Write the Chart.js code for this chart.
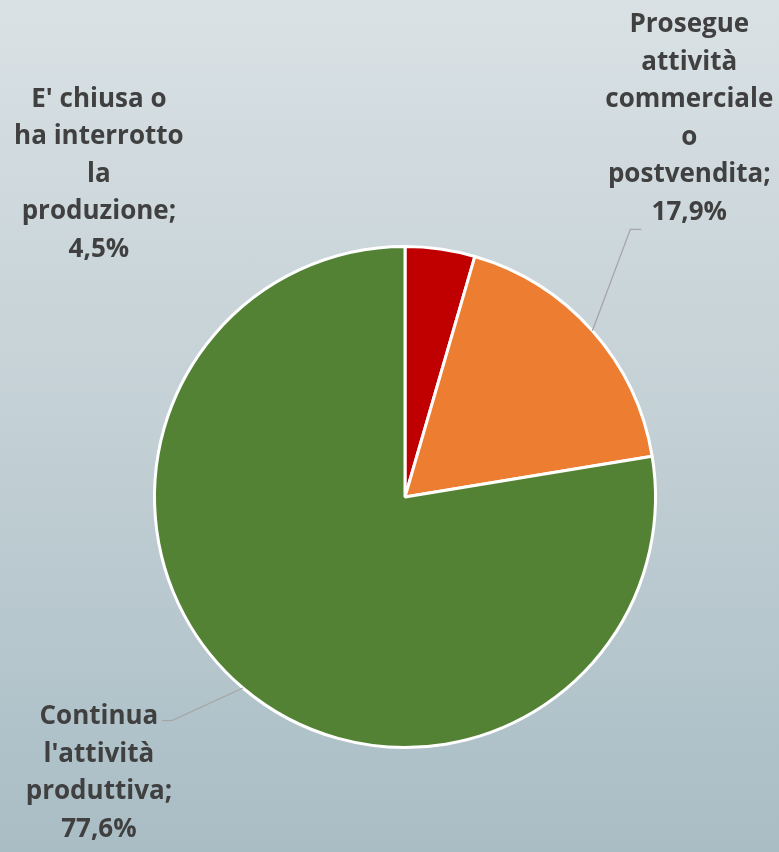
<!DOCTYPE html>
<html><head><meta charset="utf-8">
<script src="https://cdn.jsdelivr.net/npm/chart.js@4/dist/chart.umd.min.js"></script>
<style>
html,body{margin:0;padding:0;width:779px;height:852px;overflow:hidden;}
body{background:linear-gradient(to bottom,#d9e1e4 0%,#c3d0d5 50%,#a9bdc5 100%);}
#wrap{position:absolute;left:0;top:0;width:779px;height:852px;}
</style></head><body>
<div id="wrap"><canvas id="c" width="779" height="852"></canvas></div>
<script>
const categories = ["E' chiusa o ha interrotto la produzione", "Prosegue attività commerciale o postvendita", "Continua l'attività produttiva"];
const values = [4.5, 17.9, 77.6];
const valueLabels = ["4,5%", "17,9%", "77,6%"];
const labelLines = [
  ["E' chiusa o", "ha interrotto", "la", "produzione;"],
  ["Prosegue", "attività", "commerciale", "o", "postvendita;"],
  ["Continua", "l'attività", "produttiva;"]
];
const colors = ["#c00000", "#ed7d31", "#548235"];

// label placement relative to pie center, in radius units (dx, dy of first line center)
const labelPos = [
  {dx:-1.222, dy:-1.587, leader:false},
  {dx:1.135, dy:-1.885, leader:true},
  {dx:-1.222, dy:0.877, leader:true}
];

const labelPlugin = {
  id:'labels',
  afterDatasetsDraw(chart){
    const ctx = chart.ctx;
    const meta = chart.getDatasetMeta(0);
    ctx.save();
    ctx.font = "bold 26px 'Open Sans', sans-serif";
    ctx.textAlign = 'center';
    ctx.textBaseline = 'middle';
    meta.data.forEach((arc, i) => {
      const {x, y, outerRadius, startAngle, endAngle} = arc.getProps(['x','y','outerRadius','startAngle','endAngle'], true);
      const r = outerRadius;
      const lx = x + labelPos[i].dx * r;
      const ly = y + labelPos[i].dy * r;
      const lines = labelLines[i].concat([valueLabels[i]]);
      const lh = 37.5;
      ctx.fillStyle = '#404040';
      lines.forEach((t, k) => ctx.fillText(t, lx, ly + k*lh));
      if (labelPos[i].leader) {
        ctx.strokeStyle = '#a6a6a6';
        ctx.lineWidth = 1.3;
        ctx.beginPath();
        const a = (startAngle + endAngle)/2;
        const px = x + Math.cos(a)*r, py = y + Math.sin(a)*r;
        if (i === 1) {
          const ey = ly + (lines.length-1)*lh + 17;
          ctx.moveTo(px, py);
          ctx.lineTo(lx - 59, ey);
          ctx.lineTo(lx - 48, ey);
        } else {
          ctx.moveTo(px, py);
          ctx.lineTo(lx + 73, ly + 4);
          ctx.lineTo(lx + 63, ly + 4);
        }
        ctx.stroke();
      }
    });
    ctx.restore();
  }
};

new Chart(document.getElementById('c'), {
  type:'pie',
  data:{labels:categories, datasets:[{data:values, backgroundColor:colors, borderColor:'#ffffff', borderWidth:3}]},
  options:{
    responsive:false, animation:false,
    layout:{padding:{left:153, right:122, top:245, bottom:103}},
    plugins:{legend:{display:false}, tooltip:{enabled:false}}
  },
  plugins:[labelPlugin]
});
</script>
</body></html>
